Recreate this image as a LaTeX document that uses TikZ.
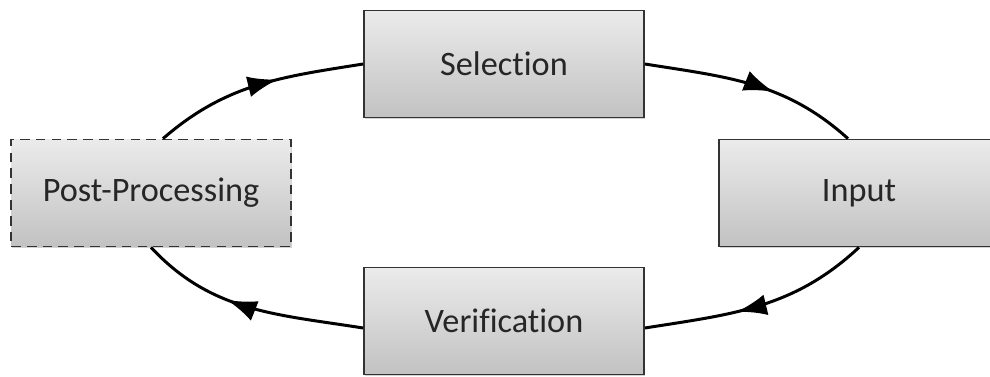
\documentclass[tikz,border=0pt]{standalone}
\usepackage{fontspec}
\setmainfont{Carlito}[Ligatures=NoCommon]
\usepackage{xcolor}
\usepackage{tikz}
\usetikzlibrary{arrows.meta,shadows,decorations.markings}
\definecolor{BoxTop}{HTML}{EBEBEB}
\definecolor{BoxBottom}{HTML}{C2C2C2}
\definecolor{BoxLine}{HTML}{333333}
\definecolor{LabelGray}{HTML}{262626}

\tikzset{
  stage/.style={draw=BoxLine, line width=1pt, top color=BoxTop, bottom color=BoxBottom,
    minimum width=5.6cm, minimum height=2.14cm, text=LabelGray,
    font=\fontsize{19.5}{23}\selectfont,
    drop shadow={shadow xshift=0.8pt, shadow yshift=-0.8pt, opacity=0.35}},
  optstage/.style={stage, dash pattern=on 5.5pt off 3.5pt},
  flow/.style={line width=1.7pt, decoration={markings,
    mark=at position 0.6 with {\arrow{Latex[length=6mm,width=4.2mm]}}},
    postaction={decorate}}
}

\begin{document}
\begin{tikzpicture}[x=0.02cm, y=0.02cm]
        \useasboundingbox (0,0) rectangle (990,-376);
        % the four stages
        \node[stage] (sel) at (504,-64) {Selection};
        \node[stage] (inp) at (859,-193) {Input};
        \node[stage] (verif) at (504,-321) {Verification};
        \node[optstage] (post) at (151,-193) {Post-Processing};
        % cycle
        \draw[flow] (sel.east) to[out=-9, in=138] ([xshift=-2.2mm]inp.north);
        \draw[flow] (inp.south) to[out=-137, in=9] ([yshift=-1.4mm]verif.east);
        \draw[flow] ([yshift=-1.4mm]verif.west) to[out=171, in=-47] (post.south);
        \draw[flow] ([xshift=2.4mm]post.north) to[out=41, in=-171] (sel.west);
      \end{tikzpicture}
\end{document}
